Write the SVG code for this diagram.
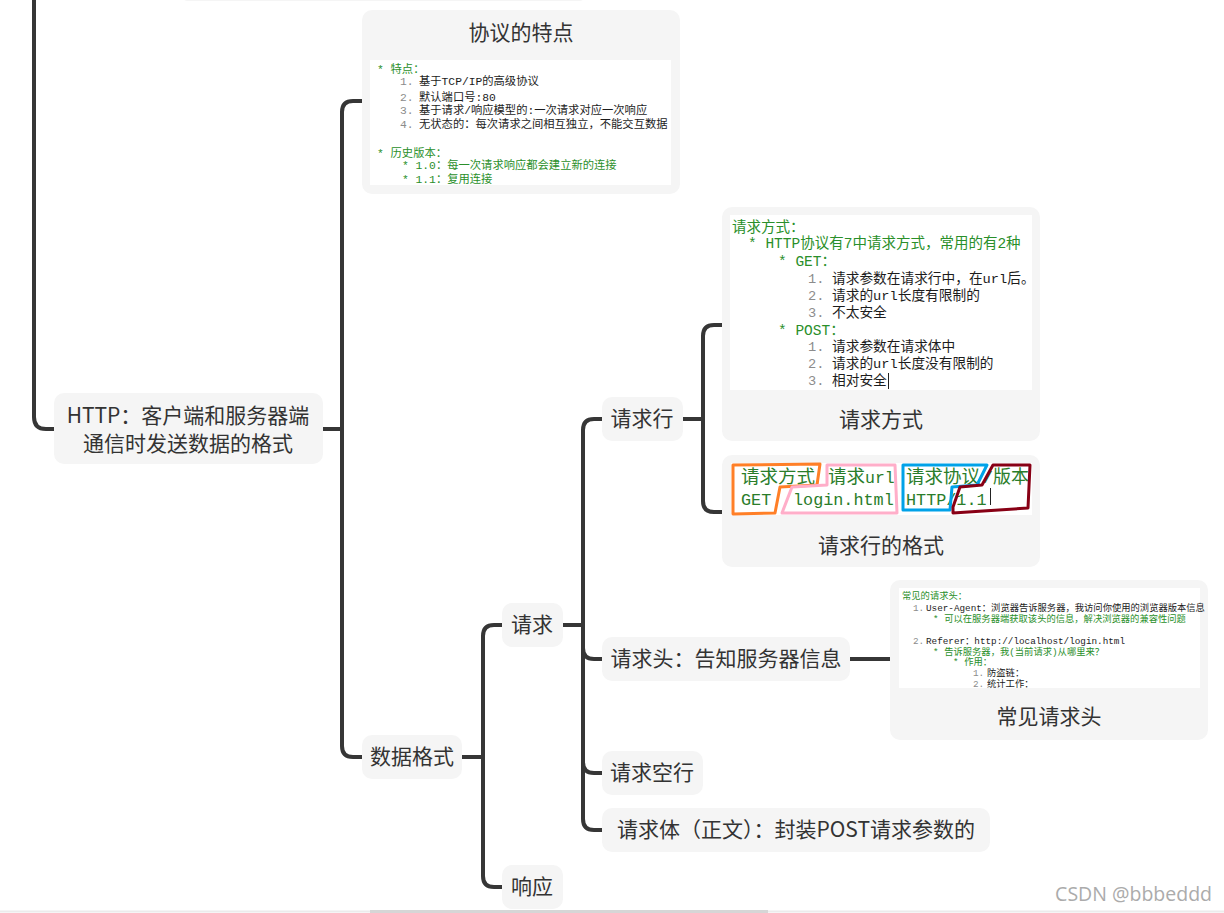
<svg xmlns="http://www.w3.org/2000/svg" width="1224" height="913" viewBox="0 0 1224 913">
<style>
.bg{fill:#ffffff}
.n{fill:#f5f5f5}
.w{fill:#ffffff}
.t{font-family:"Noto Sans CJK SC","Noto Sans",sans-serif;fill:#333333;font-size:21px;text-anchor:middle}
.c{fill:none;stroke:#363636;stroke-width:4}
.m{font-family:"Liberation Mono","Noto Sans CJK SC",monospace}
.g{fill:#2a8f2a}
.k{fill:#1c1c1c}
.d{fill:#8c8c8c}
.hd{fill:none;stroke-width:3;stroke-linejoin:round}
</style>
<rect class="bg" x="0" y="0" width="1224" height="913"/>
<rect x="180" y="-30" width="407" height="31" rx="8" fill="#f5f5f5"/>

<g id="connectors">
<path class="c" d="M34,0 V417 Q34,429 46,429 H54"/>
<path class="c" d="M323,429 H342"/>
<path class="c" d="M362,101 H353 Q342,101 342,112 V746 Q342,757 353,757 H362"/>
<path class="c" d="M462,757 H483"/>
<path class="c" d="M502,625 H494 Q483,625 483,636 V876 Q483,887 494,887 H502"/>
<path class="c" d="M563,625 H583"/>
<path class="c" d="M602,419 H594 Q583,419 583,430 V819 Q583,830 594,830 H602"/>
<path class="c" d="M583,648 Q583,659 594,659 H602"/>
<path class="c" d="M583,762 Q583,773 594,773 H602"/>
<path class="c" d="M683,419 H703"/>
<path class="c" d="M722,325 H714 Q703,325 703,336 V501 Q703,512 714,512 H722"/>
<path class="c" d="M850,659 H890"/>
</g>

<g id="node-http">
<rect class="n" x="54" y="393" width="269" height="71" rx="10"/>
<text class="t" x="188" y="423" font-size="22">HTTP：客户端和服务器端</text>
<text class="t" x="188" y="451" font-size="22">通信时发送数据的格式</text>
</g>

<g id="node-features">
<rect class="n" x="362" y="10" width="318" height="184" rx="10"/>
<text class="t" x="521" y="40">协议的特点</text>
<rect class="w" x="370" y="60" width="301" height="125"/>
<g class="m" font-size="11.3">
<text x="377" y="73" class="g">* 特点：</text>
<text y="85"><tspan x="400" class="d">1.</tspan><tspan x="419" class="k">基于TCP/IP的高级协议</tspan></text>
<text y="101"><tspan x="400" class="d">2.</tspan><tspan x="419" class="k">默认端口号:80</tspan></text>
<text y="114"><tspan x="400" class="d">3.</tspan><tspan x="419" class="k">基于请求/响应模型的:一次请求对应一次响应</tspan></text>
<text y="128"><tspan x="400" class="d">4.</tspan><tspan x="419" class="k">无状态的：每次请求之间相互独立，不能交互数据</tspan></text>
<text x="377" y="157" class="g">* 历史版本：</text>
<text x="402" y="169" class="g">* 1.0：每一次请求响应都会建立新的连接</text>
<text x="402" y="183" class="g">* 1.1：复用连接</text>
</g>
</g>

<g id="node-data-format">
<rect class="n" x="362" y="735" width="100" height="44" rx="10"/>
<text class="t" x="412" y="764">数据格式</text>
</g>

<g id="node-request">
<rect class="n" x="502" y="603" width="61" height="44" rx="10"/>
<text class="t" x="532" y="632">请求</text>
</g>

<g id="node-response">
<rect class="n" x="502" y="865" width="61" height="44" rx="10"/>
<text class="t" x="532" y="894">响应</text>
</g>

<g id="node-request-line">
<rect class="n" x="602" y="397" width="81" height="44" rx="10"/>
<text class="t" x="642" y="426">请求行</text>
</g>

<g id="node-methods">
<rect class="n" x="722" y="207" width="318" height="234" rx="10"/>
<rect class="w" x="730" y="215" width="302" height="175"/>
<g class="m">
<text x="732" y="232" class="g" font-size="14.5">请求方式：</text>
<text x="748" y="248" class="g" font-size="14.5">* HTTP协议有7中请求方式，常用的有2种</text>
<text x="778" y="266" class="g" font-size="14.5">* GET：</text>
<text y="283" font-size="13.7"><tspan x="808" class="d">1.</tspan><tspan x="832" class="k">请求参数在请求行中，在url后。</tspan></text>
<text y="300" font-size="13.7"><tspan x="808" class="d">2.</tspan><tspan x="832" class="k">请求的url长度有限制的</tspan></text>
<text y="317" font-size="13.7"><tspan x="808" class="d">3.</tspan><tspan x="832" class="k">不太安全</tspan></text>
<text x="778" y="335" class="g" font-size="14.5">* POST：</text>
<text y="351" font-size="13.7"><tspan x="808" class="d">1.</tspan><tspan x="832" class="k">请求参数在请求体中</tspan></text>
<text y="368" font-size="13.7"><tspan x="808" class="d">2.</tspan><tspan x="832" class="k">请求的url长度没有限制的</tspan></text>
<text y="385" font-size="13.7"><tspan x="808" class="d">3.</tspan><tspan x="832" class="k">相对安全</tspan></text>
</g>
<rect x="888" y="373" width="1" height="16" fill="#222"/>
<text class="t" x="881" y="427">请求方式</text>
</g>

<g id="node-line-format">
<rect class="n" x="722" y="455" width="318" height="112" rx="10"/>
<rect class="w" x="731" y="463" width="301" height="52"/>
<g class="m" fill="#2a7d2a">
<text x="741" y="483" font-size="18.5">请求方式</text>
<text y="483"><tspan x="828" font-size="18.5">请求</tspan><tspan font-size="16.5">url</tspan></text>
<text x="906" y="483" font-size="18.5">请求协议</text>
<text x="983" y="483" font-size="16.5">/</text>
<text x="993" y="483" font-size="18">版本</text>
<text x="741" y="505" font-size="16.8">GET</text>
<text x="793" y="505" font-size="16.8">login.html</text>
<text x="906" y="505" font-size="16.8">HTTP/1.1</text>
</g>
<polygon class="hd" stroke="#ff7f27" points="733,465 820,464 817,485 780,487 775,513 733,514"/>
<polygon class="hd" stroke="#ffaec9" points="827,465 895,465 897,513 782,513 792,487 827,485"/>
<polygon class="hd" stroke="#00a2e8" points="903,465 987,465 977,485 952,487 950,510 903,510"/>
<polygon class="hd" stroke="#880015" points="993,465 1030,465 1028,508 953,513 953,507 960,487 982,485"/>
<rect x="990" y="488" width="1" height="17" fill="#222"/>
<text class="t" x="881" y="553">请求行的格式</text>
</g>

<g id="node-request-header">
<rect class="n" x="602" y="637" width="248" height="44" rx="10"/>
<text class="t" x="726" y="666">请求头：告知服务器信息</text>
</g>

<g id="node-common-headers">
<rect class="n" x="890" y="580" width="318" height="160" rx="10"/>
<rect class="w" x="899" y="588" width="301" height="100"/>
<g class="m" font-size="9.3">
<text x="902" y="599" class="g">常见的请求头：</text>
<text y="611"><tspan x="913" class="d">1.</tspan><tspan x="926" class="k">User-Agent：浏览器告诉服务器，我访问你使用的浏览器版本信息</tspan></text>
<text x="933" y="622" class="g">* 可以在服务器端获取该头的信息，解决浏览器的兼容性问题</text>
<text y="644"><tspan x="913" class="d">2.</tspan><tspan x="926" class="k">Referer：http://localhost/login.html</tspan></text>
<text x="933" y="655" class="g">* 告诉服务器，我(当前请求)从哪里来？</text>
<text x="953" y="665" class="g">* 作用：</text>
<text y="676"><tspan x="973" class="d">1.</tspan><tspan x="987" class="k">防盗链：</tspan></text>
<text y="687"><tspan x="973" class="d">2.</tspan><tspan x="987" class="k">统计工作：</tspan></text>
</g>
<text class="t" x="1049" y="724">常见请求头</text>
</g>

<g id="node-empty-line">
<rect class="n" x="602" y="751" width="101" height="44" rx="10"/>
<text class="t" x="652" y="780">请求空行</text>
</g>

<g id="node-body">
<rect class="n" x="602" y="808" width="388" height="44" rx="10"/>
<text class="t" x="796" y="837" font-size="21.4">请求体（正文）：封装POST请求参数的</text>
</g>

<line x1="0" y1="911.5" x2="1224" y2="911.5" stroke="#ececec" stroke-width="2"/>
<rect x="370" y="910" width="398" height="3" fill="#d6d6d6"/>
<text x="1212" y="901" font-family="'Open Sans','Noto Sans',sans-serif" font-size="19.5" fill="#ababab" text-anchor="end">CSDN @bbbeddd</text>
</svg>
